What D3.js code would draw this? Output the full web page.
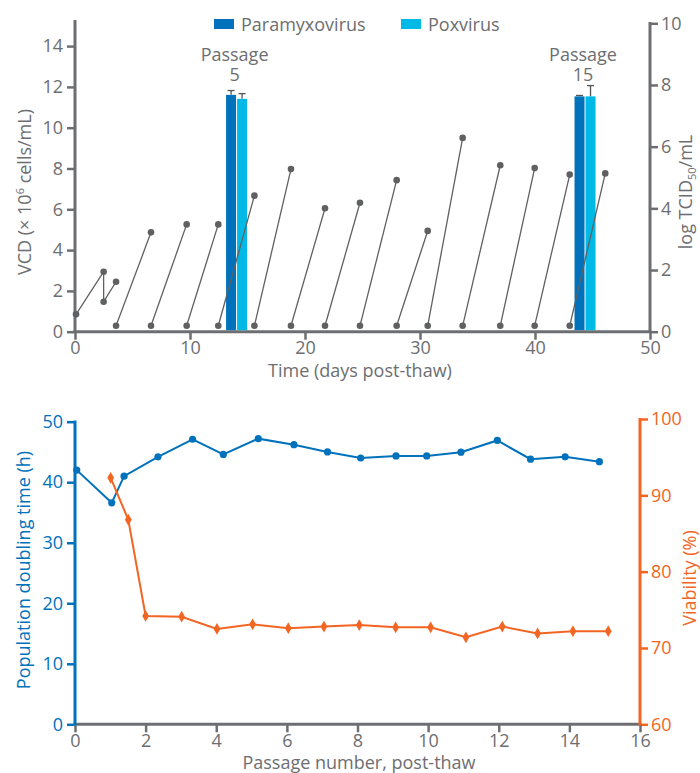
<!DOCTYPE html>
<html><head><meta charset="utf-8">
<script src="https://cdn.jsdelivr.net/npm/d3@7"></script>
<style>body{margin:0;background:#fff}svg{display:block;font-family:"Open Sans",sans-serif}</style>
</head><body><svg id="c" width="700" height="773"></svg>
<script>
// ---------- DATA (top chart) ----------
const seriesNames = ["Paramyxovirus", "Poxvirus"];
const passageLabels = ["5", "15"];
const passageDays = [14.05, 44.35];
const paramyxoTiter = [7.68, 7.63];
const paramyxoErr = [0.14, 0.03];
const poxTiter = [7.55, 7.63];
const poxErr = [0.17, 0.35];
const growthCurves = [
  [[0.09,0.85],[2.49,2.94],[2.49,1.47],[3.57,2.45]],
  [[3.57,0.29],[6.61,4.87]],
  [[6.61,0.29],[9.71,5.26]],
  [[9.71,0.29],[12.46,5.26]],
  [[12.46,0.29],[15.6,6.67]],
  [[15.6,0.29],[18.78,7.97]],
  [[18.78,0.29],[21.74,6.05]],
  [[21.74,0.29],[24.78,6.32]],
  [[24.78,0.29],[27.97,7.43]],
  [[27.97,0.29],[30.67,4.94]],
  [[30.67,0.29],[33.71,9.5]],
  [[33.71,0.29],[36.98,8.16]],
  [[36.98,0.29],[39.97,8.02]],
  [[39.97,0.29],[43.02,7.7]],
  [[43.02,0.29],[46.11,7.76]]
];
const topXTicks = [0,10,20,30,40,50];
const vcdTicks = [0,2,4,6,8,10,12,14];
const titerTicks = [0,2,4,6,8,10];
// ---------- DATA (bottom chart) ----------
const dtPassage = [0.05,1.04,1.39,2.35,3.33,4.2,5.19,6.2,7.15,8.09,9.09,9.96,10.93,11.96,12.9,13.88,14.85];
const doublingTime = [42.0,36.6,41.0,44.2,47.1,44.6,47.2,46.2,45.0,44.0,44.35,44.35,44.96,46.9,43.8,44.2,43.4];
const vPassage = [1.01,1.51,2.0,3.02,4.02,5.03,6.04,7.05,8.05,9.08,10.07,11.07,12.1,13.1,14.1,15.1];
const viability = [92.3,86.8,74.2,74.1,72.5,73.1,72.6,72.8,73.0,72.7,72.7,71.4,72.8,71.9,72.2,72.2];
const botXTicks = [0,2,4,6,8,10,12,14,16];
const dtTicks = [0,10,20,30,40,50];
const viaTicks = [60,70,80,90,100];

// ---------- STYLE ----------
const GREY = "#6d6e71", DARK = "#0071bb", LIGHT = "#00b9e6", BLUE = "#0072bc", ORANGE = "#f26522";
const FS = 18;
const svg = d3.select("#c");

function styleAxis(g, color) {
  g.select(".domain").remove();
  g.selectAll(".tick line").attr("stroke", color).attr("stroke-width", 2.5);
  g.selectAll(".tick text").attr("fill", color).style("font-size", FS + "px").style("font-family", '"Open Sans",sans-serif');
}
function vline(x, y1, y2, color) {
  svg.append("line").attr("x1", x).attr("x2", x).attr("y1", y1).attr("y2", y2)
    .attr("stroke", color).attr("stroke-width", 3);
}
function hline(y, x1, x2, color) {
  svg.append("line").attr("x1", x1).attr("x2", x2).attr("y1", y).attr("y2", y)
    .attr("stroke", color).attr("stroke-width", 3);
}

// ---------- TOP CHART ----------
const x1 = d3.scaleLinear().domain([0, 50]).range([75, 650]);
const yL = d3.scaleLinear().domain([0, 14]).range([331.7, 46.1]);
const yR = d3.scaleLinear().domain([0, 10]).range([331.7, 23.3]);

svg.append("g").attr("transform", "translate(75,0)")
  .call(d3.axisLeft(yL).tickValues(vcdTicks).tickSize(8).tickPadding(4)).call(g => styleAxis(g, GREY));
svg.append("g").attr("transform", "translate(650,0)")
  .call(d3.axisRight(yR).tickValues(titerTicks).tickSize(8).tickPadding(3)).call(g => styleAxis(g, GREY));
svg.append("g").attr("transform", "translate(0,331.7)")
  .call(d3.axisBottom(x1).tickValues(topXTicks).tickSize(8).tickPadding(2)).call(g => styleAxis(g, GREY));
vline(75, 20, 333, GREY);
vline(650, yR(10) - 1.2, 333, GREY);
hline(331.7, 73.5, 651.5, GREY);

// bars
const barW = 10;
passageDays.forEach((d, i) => {
  const cx = x1(d);
  const bars = [
    {x: cx - barW - 0.5, v: paramyxoTiter[i], e: paramyxoErr[i], c: DARK},
    {x: cx + 0.5, v: poxTiter[i], e: poxErr[i], c: LIGHT}
  ];
  bars.forEach(b => {
    svg.append("line").attr("x1", b.x + barW / 2).attr("x2", b.x + barW / 2)
      .attr("y1", yR(b.v)).attr("y2", yR(b.v + b.e)).attr("stroke", "#555").attr("stroke-width", 1.3);
    svg.append("line").attr("x1", b.x + barW / 2 - 3.5).attr("x2", b.x + barW / 2 + 3.5)
      .attr("y1", yR(b.v + b.e)).attr("y2", yR(b.v + b.e)).attr("stroke", "#555").attr("stroke-width", 1.3);
    svg.append("rect").attr("x", b.x).attr("width", barW)
      .attr("y", yR(b.v)).attr("height", yR(0) - yR(b.v) - 1.5).attr("fill", b.c);
  });
  const lab = svg.append("text").attr("text-anchor", "middle")
    .attr("fill", GREY).style("font-size", FS + "px");
  lab.append("tspan").attr("x", cx - 2).attr("y", 61).text("Passage");
  lab.append("tspan").attr("x", cx - 2).attr("dy", 20).text(passageLabels[i]);
});

// growth curves
const lineTop = d3.line().x(p => x1(p[0])).y(p => yL(p[1]));
growthCurves.forEach(c => {
  svg.append("path").attr("d", lineTop(c)).attr("fill", "none").attr("stroke", "#5f6062").attr("stroke-width", 1.3);
  svg.selectAll(null).data(c).enter().append("circle")
    .attr("cx", p => x1(p[0])).attr("cy", p => yL(p[1])).attr("r", 3.3).attr("fill", "#5f6062");
});

// legend
const legX = [214, 401];
seriesNames.forEach((n, i) => {
  svg.append("rect").attr("x", legX[i]).attr("y", 19).attr("width", 20).attr("height", 10).attr("fill", i ? LIGHT : DARK);
  svg.append("text").attr("x", legX[i] + 27).attr("y", 31).attr("fill", GREY).style("font-size", FS + "px").text(n);
});

// axis titles
const tL = svg.append("text").attr("transform", "translate(31,192) rotate(-90)").attr("text-anchor", "middle")
  .attr("fill", GREY).style("font-size", FS + "px");
tL.append("tspan").text("VCD (× 10");
tL.append("tspan").attr("dy", -7).style("font-size", "11px").text("6");
tL.append("tspan").attr("dy", 7).text(" cells/mL)");
const tR = svg.append("text").attr("transform", "translate(692,192) rotate(-90)").attr("text-anchor", "middle")
  .attr("fill", GREY).style("font-size", FS + "px");
tR.append("tspan").text("log TCID");
tR.append("tspan").attr("dy", 4).style("font-size", "11px").text("50");
tR.append("tspan").attr("dy", -4).text("/mL");
svg.append("text").attr("x", 360).attr("y", 377).attr("text-anchor", "middle").attr("fill", GREY)
  .style("font-size", FS + "px").text("Time (days post-thaw)");

// ---------- BOTTOM CHART ----------
const x2 = d3.scaleLinear().domain([0, 16]).range([75, 640]);
const yB = d3.scaleLinear().domain([0, 50]).range([724.3, 421.7]);
const yO = d3.scaleLinear().domain([60, 100]).range([724.3, 419]);

svg.append("g").attr("transform", "translate(75,0)")
  .call(d3.axisLeft(yB).tickValues(dtTicks).tickSize(8).tickPadding(4)).call(g => styleAxis(g, BLUE));
svg.append("g").attr("transform", "translate(640,0)")
  .call(d3.axisRight(yO).tickValues(viaTicks).tickSize(8).tickPadding(3)).call(g => styleAxis(g, ORANGE));
svg.append("g").attr("transform", "translate(0,724.3)")
  .call(d3.axisBottom(x2).tickValues(botXTicks).tickSize(8).tickPadding(2)).call(g => styleAxis(g, GREY));
hline(724.3, 73.5, 641.5, GREY);
vline(75, 420.5, 725.5, BLUE);
vline(640, 418, 725.5, ORANGE);

// doubling time
const lineDT = d3.line().x((d, i) => x2(dtPassage[i])).y(d => yB(d));
svg.append("path").attr("d", lineDT(doublingTime)).attr("fill", "none").attr("stroke", BLUE).attr("stroke-width", 2);
svg.selectAll(null).data(doublingTime).enter().append("circle")
  .attr("cx", (d, i) => x2(dtPassage[i])).attr("cy", d => yB(d)).attr("r", 3.6).attr("fill", BLUE);

// viability
const lineV = d3.line().x((d, i) => x2(vPassage[i])).y(d => yO(d));
svg.append("path").attr("d", lineV(viability)).attr("fill", "none").attr("stroke", ORANGE).attr("stroke-width", 2);
const diamond = d3.symbol().type(d3.symbolDiamond).size(40);
svg.selectAll(null).data(viability).enter().append("path")
  .attr("d", diamond).attr("transform", (d, i) => `translate(${x2(vPassage[i])},${yO(d)})`).attr("fill", ORANGE);

// titles
svg.append("text").attr("transform", "translate(30,570) rotate(-90)").attr("text-anchor", "middle")
  .attr("fill", BLUE).style("font-size", FS + "px").text("Population doubling time (h)");
svg.append("text").attr("transform", "translate(696,578) rotate(-90)").attr("text-anchor", "middle")
  .attr("fill", ORANGE).style("font-size", FS + "px").text("Viability (%)");
svg.append("text").attr("x", 359).attr("y", 769).attr("text-anchor", "middle").attr("fill", GREY)
  .style("font-size", FS + "px").text("Passage number, post-thaw");
</script></body></html>
